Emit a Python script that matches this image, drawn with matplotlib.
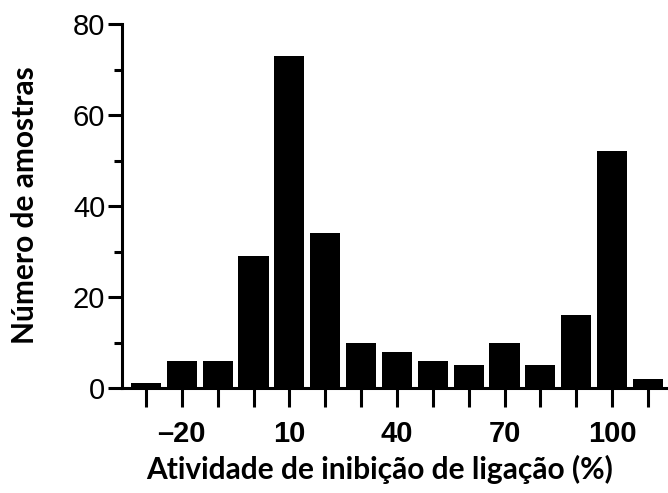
import matplotlib
matplotlib.use("Agg")
import matplotlib.pyplot as plt
import numpy as np
from matplotlib.ticker import FixedLocator, FuncFormatter

# histogram of binding-inhibition activity
bin_centers = [-30, -20, -10, 0, 10, 20, 30, 40, 50, 60, 70, 80, 90, 100, 110]
counts = [1, 6, 6, 29, 73, 34, 10, 8, 6, 5, 10, 5, 16, 52, 2]
labeled_ticks = [-20, 10, 40, 70, 100]
y_major = [0, 20, 40, 60, 80]
y_minor = [10, 30, 50, 70]

xlabel = "Atividade de inibição de ligação (%)"
ylabel = "Número de amostras"

fig = plt.figure(figsize=(6.68, 4.93), dpi=100)
ax = fig.add_axes([0.1826, 0.213, 0.8174, 0.738])

ax.bar(bin_centers, counts, width=8.4, color="black", edgecolor="none")

ax.set_xlim(-36.7, 115.6)
ax.set_ylim(0, 80)

for side in ("top", "right"):
    ax.spines[side].set_visible(False)
for side in ("left", "bottom"):
    ax.spines[side].set_linewidth(2.2)

ax.xaxis.set_major_locator(FixedLocator(bin_centers))
ax.xaxis.set_major_formatter(FuncFormatter(
    lambda v, p: ("\u2013%d" % -v if v < 0 else "%d" % v) if int(round(v)) in labeled_ticks else ""))
ax.yaxis.set_major_locator(FixedLocator(y_major))
ax.yaxis.set_minor_locator(FixedLocator(y_minor))

ax.tick_params(axis="x", which="major", direction="out", length=14, width=2.2, pad=9)
ax.tick_params(axis="y", which="major", direction="out", length=10, width=2.2, pad=2)
ax.tick_params(axis="y", which="minor", direction="out", length=6, width=2.2)
for lab in ax.get_xticklabels():
    lab.set_fontfamily("Liberation Sans")
    lab.set_fontweight("bold")
    lab.set_fontsize(21)
for lab in ax.get_yticklabels():
    lab.set_fontfamily("Liberation Sans")
    lab.set_fontsize(21)

label_font = {"family": "Lato", "weight": "bold", "size": 21.5}
ax.set_xlabel(xlabel, fontdict=label_font)
ax.xaxis.set_label_coords(0.4725, -0.185)
ax.set_ylabel(ylabel, fontdict=label_font)
ax.yaxis.set_label_coords(-0.152, 0.503)

fig.savefig("out.png", dpi=100)
